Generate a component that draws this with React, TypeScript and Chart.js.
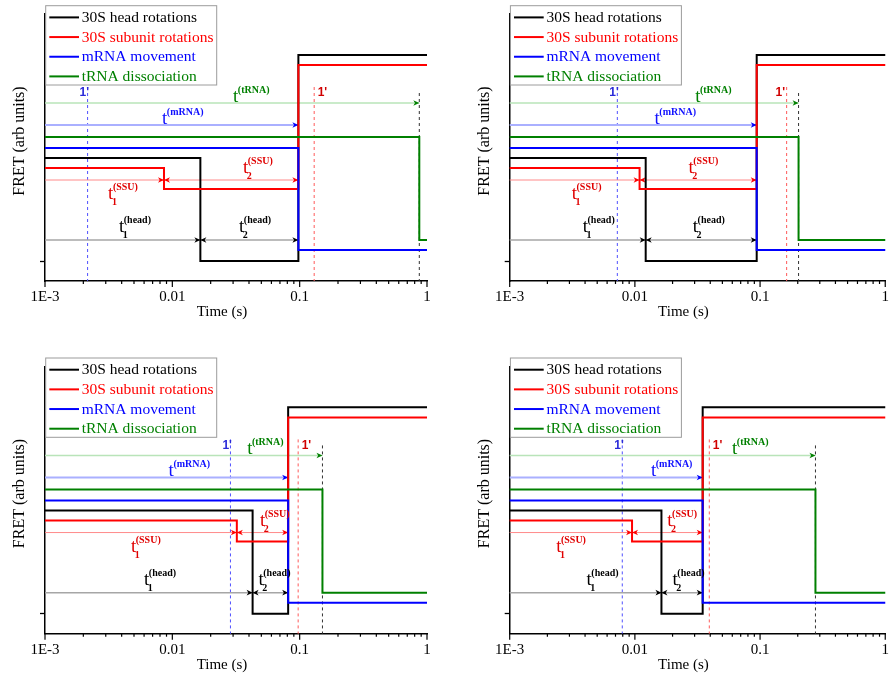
import React, { useEffect, useRef } from 'react';
import { Chart, registerables } from 'chart.js';

Chart.register(...registerables);

// ---------------- data ----------------
const seriesNames = ['30S head rotations', '30S subunit rotations', 'mRNA movement', 'tRNA dissociation'];
const seriesColors = ['#000000', '#ff0000', '#0000ff', '#008000'];

// FRET levels (arb units) of each step, identical in all four panels
const headLevels = [123, 20, 226];
const ssuLevels = [113, 92, 216];
const mrnaLevels = [133, 31];
const trnaLevels = [144, 41];

// transition times (s) in each panel
const headTimes = [
  [0.0166, 0.0977],
  [0.0122, 0.094],
  [0.0427, 0.0812],
  [0.0163, 0.0348],
];
const ssuTimes = [
  [0.0086, 0.0977],
  [0.0109, 0.094],
  [0.0321, 0.0812],
  [0.00949, 0.0348],
];
const mrnaTimes = [0.0977, 0.094, 0.0812, 0.0348];
const trnaTimes = [0.87, 0.203, 0.151, 0.277];

// dashed "1'" markers (s)
const mrnaPrimeTimes = [0.00216, 0.00724, 0.0286, 0.00793];
const ssuPrimeTimes = [0.13, 0.163, 0.0973, 0.0393];
const ssuPrimeSide = ['right', 'left', 'right', 'right'];

// arrow levels: tRNA, mRNA, SSU, head
const arrowLevels = [178, 156, 101, 41];
const primeTop = 194;
const trnaMarkTop = 188;
const primeLabelLevel = 188;

// label anchors: tRNA, mRNA, t2 SSU, t1 SSU, t1 head, t2 head
const labelLevels = [179, 157, 108, 82, 49, 49];
const labelTimes = [
  [0.03, 0.0083, 0.0359, 0.00313, 0.00381, 0.0334],
  [0.0303, 0.01437, 0.0268, 0.00313, 0.00383, 0.029],
  [0.0387, 0.00935, 0.0487, 0.00473, 0.006, 0.0475],
  [0.0597, 0.01345, 0.01816, 0.00235, 0.00411, 0.02],
];

// axes
const xTickDecades = [0.001, 0.01, 0.1, 1];
const xTickLabels = ['1E-3', '0.01', '0.1', '1'];
const minorMultipliers = [1, 2, 3, 4, 5, 6, 7, 8, 9];
const yMin = 0;
const yMax = 267;
const yTickValue = 20;

// ---------------- layout ----------------
const cells = [
  { left: 0, top: 0, w: 448, h: 337, aL: 45, aT: 14, aR: 427, aB: 281 },
  { left: 448, top: 0, w: 448, h: 337, aL: 61.7, aT: 14, aR: 444.3, aB: 281 },
  { left: 0, top: 337, w: 448, h: 338, aL: 45, aT: 29.3, aR: 427, aB: 296.7 },
  { left: 448, top: 337, w: 448, h: 338, aL: 61.7, aT: 29.3, aR: 444.3, aB: 296.7 },
];

const SERIF = '"Liberation Serif", "Times New Roman", serif';
const SANS = '"Liberation Sans", Arial, sans-serif';

function stepData(levels: number[], times: number[]) {
  const pts = [{ x: xTickDecades[0], y: levels[0] }];
  times.forEach((t, i) => pts.push({ x: t, y: levels[i + 1] }));
  pts.push({ x: xTickDecades[xTickDecades.length - 1], y: levels[levels.length - 1] });
  return pts;
}

function allXTicks() {
  const out: number[] = [];
  xTickDecades.forEach((d, i) => {
    if (i === xTickDecades.length - 1) out.push(d);
    else minorMultipliers.forEach((m) => out.push(+(d * m).toPrecision(6)));
  });
  return out;
}

function vline(ctx: CanvasRenderingContext2D, x: number, y1: number, y2: number, color: string) {
  ctx.save();
  ctx.strokeStyle = color;
  ctx.lineWidth = 1;
  ctx.setLineDash([3, 3]);
  ctx.beginPath();
  ctx.moveTo(x, y1);
  ctx.lineTo(x, y2);
  ctx.stroke();
  ctx.restore();
}

function head(ctx: CanvasRenderingContext2D, x: number, y: number, dir: number, color: string) {
  ctx.fillStyle = color;
  ctx.beginPath();
  ctx.moveTo(x, y);
  ctx.lineTo(x - dir * 6, y - 2.8);
  ctx.lineTo(x - dir * 4.3, y);
  ctx.lineTo(x - dir * 6, y + 2.8);
  ctx.closePath();
  ctx.fill();
}

function arrow(
  ctx: CanvasRenderingContext2D,
  x1: number,
  x2: number,
  y: number,
  lineColor: string,
  headColor: string,
  both: boolean,
  lw: number
) {
  ctx.save();
  ctx.strokeStyle = lineColor;
  ctx.lineWidth = lw;
  ctx.beginPath();
  ctx.moveTo(x1, y);
  ctx.lineTo(x2, y);
  ctx.stroke();
  head(ctx, x2, y, 1, headColor);
  if (both) head(ctx, x1, y, -1, headColor);
  ctx.restore();
}

function tLabel(
  ctx: CanvasRenderingContext2D,
  x: number,
  y: number,
  sub: string,
  sup: string,
  color: string
) {
  ctx.save();
  ctx.fillStyle = color;
  ctx.textAlign = 'left';
  ctx.textBaseline = 'alphabetic';
  ctx.font = `19px ${SERIF}`;
  ctx.fillText('t', x, y);
  const tw = ctx.measureText('t').width;
  ctx.font = `bold 10px ${SERIF}`;
  ctx.fillText(sup, x + tw - 0.5, y - 9);
  if (sub) ctx.fillText(sub, x + tw - 1.5, y + 6);
  ctx.restore();
}

function makePlugin(p: number) {
  return {
    id: 'annot' + p,
    beforeDatasetsDraw(chart: any) {
      const { ctx, chartArea: a, scales } = chart;
      const X = (t: number) => scales.x.getPixelForValue(t);
      const Y = (v: number) => scales.y.getPixelForValue(v);
      vline(ctx, X(mrnaPrimeTimes[p]), Y(primeTop), a.bottom, '#5050ff');
      vline(ctx, X(ssuPrimeTimes[p]), Y(primeTop), a.bottom, '#ff5a5a');
      vline(ctx, X(trnaTimes[p]), Y(trnaMarkTop), a.bottom, '#333333');

      arrow(ctx, a.left, X(trnaTimes[p]), Y(arrowLevels[0]), '#b9e4b9', '#008000', false, 1.5);
      arrow(ctx, a.left, X(mrnaTimes[p]), Y(arrowLevels[1]), '#aab0ff', '#0000ff', false, 2);
      arrow(ctx, a.left, X(ssuTimes[p][0]), Y(arrowLevels[2]), '#ff8a8a', '#ff0000', false, 1);
      arrow(ctx, X(ssuTimes[p][0]), X(ssuTimes[p][1]), Y(arrowLevels[2]), '#ff8a8a', '#ff0000', true, 1);
      arrow(ctx, a.left, X(headTimes[p][0]), Y(arrowLevels[3]), '#a6a6a6', '#000000', false, 1.5);
      arrow(ctx, X(headTimes[p][0]), X(headTimes[p][1]), Y(arrowLevels[3]), '#a6a6a6', '#000000', true, 1.5);
    },
    afterDatasetsDraw(chart: any) {
      const { ctx, scales } = chart;
      const X = (t: number) => scales.x.getPixelForValue(t);
      const Y = (v: number) => scales.y.getPixelForValue(v);
      const lt = labelTimes[p];
      tLabel(ctx, X(lt[0]), Y(labelLevels[0]), '', '(tRNA)', '#008000');
      tLabel(ctx, X(lt[1]), Y(labelLevels[1]), '', '(mRNA)', '#1010ff');
      tLabel(ctx, X(lt[2]), Y(labelLevels[2]), '2', '(SSU)', '#e00000');
      tLabel(ctx, X(lt[3]), Y(labelLevels[3]), '1', '(SSU)', '#e00000');
      tLabel(ctx, X(lt[4]), Y(labelLevels[4]), '1', '(head)', '#000000');
      tLabel(ctx, X(lt[5]), Y(labelLevels[5]), '2', '(head)', '#000000');

      ctx.save();
      ctx.font = `bold 12px ${SANS}`;
      ctx.textBaseline = 'middle';
      ctx.fillStyle = '#2a2ad8';
      ctx.textAlign = 'right';
      ctx.fillText("1'", X(mrnaPrimeTimes[p]) + 1.5, Y(primeLabelLevel));
      ctx.fillStyle = '#d00000';
      if (ssuPrimeSide[p] === 'right') {
        ctx.textAlign = 'left';
        ctx.fillText("1'", X(ssuPrimeTimes[p]) + 3.5, Y(primeLabelLevel));
      } else {
        ctx.textAlign = 'right';
        ctx.fillText("1'", X(ssuPrimeTimes[p]) - 1.5, Y(primeLabelLevel));
      }
      ctx.restore();
    },
    afterDraw(chart: any) {
      const { ctx, chartArea: a, scales } = chart;
      ctx.save();
      // x tick marks (major long, minor short)
      ctx.strokeStyle = '#000';
      ctx.lineWidth = 1.2;
      scales.x.ticks.forEach((t: any) => {
        const px = scales.x.getPixelForValue(t.value);
        const len = xTickDecades.includes(t.value) ? 6 : 3;
        ctx.beginPath();
        ctx.moveTo(px, a.bottom);
        ctx.lineTo(px, a.bottom + len);
        ctx.stroke();
      });
      // axis titles
      ctx.fillStyle = '#000';
      ctx.textAlign = 'center';
      ctx.textBaseline = 'middle';
      ctx.font = `15px ${SERIF}`;
      ctx.fillText('Time (s)', (a.left + a.right) / 2 - 14, a.bottom + 31.3);
      ctx.save();
      ctx.translate(a.left - 25, (a.top + a.bottom) / 2 - 6.5);
      ctx.rotate(-Math.PI / 2);
      ctx.font = `16px ${SERIF}`;
      ctx.fillText('FRET (arb units)', 0, 0);
      ctx.restore();
      // legend
      ctx.strokeStyle = '#9c9c9c';
      ctx.lineWidth = 1;
      ctx.strokeRect(a.left + 0.7, a.top - 8.3, 171, 79.3);
      ctx.font = `15.5px ${SERIF}`;
      ctx.textAlign = 'left';
      chart.data.datasets.forEach((d: any, i: number) => {
        const cy = a.top + 3.4 + i * 19.67;
        ctx.strokeStyle = d.borderColor;
        ctx.lineWidth = 2;
        ctx.beginPath();
        ctx.moveTo(a.left + 4.3, cy);
        ctx.lineTo(a.left + 34, cy);
        ctx.stroke();
        ctx.fillStyle = d.borderColor;
        ctx.fillText(d.label, a.left + 36.7, cy + 0.5);
      });
      ctx.restore();
    },
  };
}

function buildConfig(p: number): any {
  const c = cells[p];
  const xt = allXTicks();
  const base = [
    { levels: headLevels, times: headTimes[p], order: 3 },
    { levels: ssuLevels, times: ssuTimes[p], order: 2 },
    { levels: mrnaLevels, times: [mrnaTimes[p]], order: 0 },
    { levels: trnaLevels, times: [trnaTimes[p]], order: 1 },
  ];
  return {
    type: 'line',
    data: {
      datasets: base.map((b, i) => ({
        label: seriesNames[i],
        data: stepData(b.levels, b.times),
        borderColor: seriesColors[i],
        backgroundColor: seriesColors[i],
        borderWidth: 2,
        pointRadius: 0,
        stepped: 'before',
        fill: false,
        order: b.order,
        borderCapStyle: 'square',
        borderJoinStyle: 'miter',
      })),
    },
    options: {
      responsive: false,
      animation: false,
      devicePixelRatio: 1,
      layout: { padding: { left: 0, top: c.aT, right: c.w - c.aR, bottom: 0 } },
      plugins: { legend: { display: false }, tooltip: { enabled: false } },
      events: [],
      scales: {
        x: {
          type: 'logarithmic',
          min: xTickDecades[0],
          max: xTickDecades[xTickDecades.length - 1],
          afterBuildTicks: (s: any) => {
            s.ticks = xt.map((v) => ({ value: v, major: xTickDecades.includes(v) }));
          },
          afterFit: (s: any) => {
            s.height = c.h - c.aB;
          },
          ticks: {
            autoSkip: false,
            maxRotation: 0,
            minRotation: 0,
            padding: 7,
            color: '#000',
            font: { family: SERIF, size: 15 },
            callback: (v: number) => {
              const i = xTickDecades.indexOf(v);
              return i >= 0 ? xTickLabels[i] : '';
            },
          },
          grid: { drawOnChartArea: false, drawTicks: false },
          border: { display: true, color: '#000', width: 1.5 },
        },
        y: {
          type: 'linear',
          min: yMin,
          max: yMax,
          afterBuildTicks: (s: any) => {
            s.ticks = [{ value: yTickValue }];
          },
          afterFit: (s: any) => {
            s.width = c.aL;
          },
          ticks: { display: false },
          grid: { drawOnChartArea: false, drawTicks: true, tickLength: 5, color: '#000', tickWidth: 1.3 },
          border: { display: true, color: '#000', width: 1.5 },
        },
      },
    },
    plugins: [makePlugin(p)],
  };
}

function Panel({ idx }: { idx: number }) {
  const ref = useRef<HTMLCanvasElement>(null);
  useEffect(() => {
    const chart = new Chart(ref.current as HTMLCanvasElement, buildConfig(idx));
    return () => chart.destroy();
  }, [idx]);
  const c = cells[idx];
  return (
    <canvas
      ref={ref}
      width={c.w}
      height={c.h}
      style={{ position: 'absolute', left: c.left, top: c.top, width: c.w, height: c.h }}
    />
  );
}

export default function App() {
  return (
    <div style={{ position: 'absolute', left: 0, top: 0, width: 896, height: 675, background: '#fff', overflow: 'hidden' }}>
      {cells.map((_, i) => (
        <Panel key={i} idx={i} />
      ))}
    </div>
  );
}
